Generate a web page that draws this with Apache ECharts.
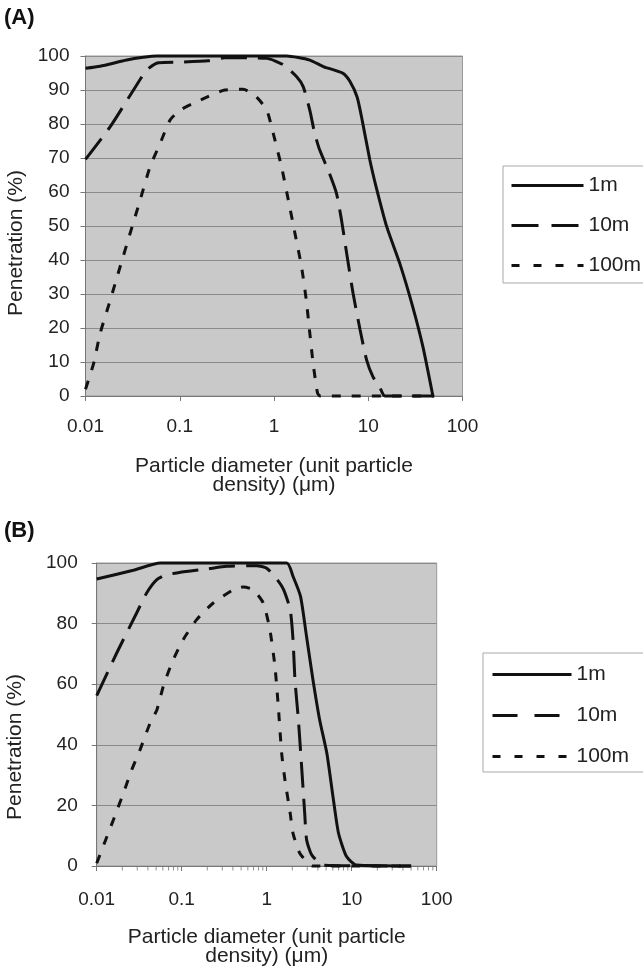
<!DOCTYPE html>
<html>
<head>
<meta charset="utf-8">
<script src="https://cdn.jsdelivr.net/npm/echarts@6/dist/echarts.min.js"></script>
<style>
html,body{margin:0;padding:0;background:#fff;}
#chart{width:643px;height:976px;}
</style>
</head>
<body>
<div id="chart"></div>
<script>
// ---- Data ----
const seriesNames = ['1m', '10m', '100m'];
const xTickLabels = ['0.01', '0.1', '1', '10', '100'];

// Panel A
const a1mX   = [0.01, 0.0143, 0.0274, 0.041, 0.057, 0.3, 1.36, 2.4, 3.33, 5.4, 6.4, 7.6, 8.5, 10.4, 12.1, 15.7, 21.6, 29.6, 38, 48.5];
const a1mY   = [96.4, 97, 98.8, 99.6, 100, 100, 100, 98.8, 96.9, 94.9, 92.5, 88, 82, 69.4, 61.6, 49.8, 39, 26.3, 14.5, 0];
const a10mX  = [0.01, 0.0183, 0.0323, 0.0447, 0.0594, 0.1, 0.2, 0.3, 0.84, 1.26, 1.74, 2.04, 2.4, 2.7, 3.05, 3.87, 4.6, 5.2, 5.9, 6.9, 8.2, 9.6, 11.2, 13.2, 15, 50];
const a10mY  = [69.6, 79.2, 90, 95.9, 98, 98.2, 98.6, 99.5, 99.3, 97.4, 93.9, 91, 84, 77.3, 72.4, 65.5, 59.6, 51.8, 42, 30.2, 19.4, 10.6, 5.7, 2.7, 0, 0];
const a100mX = [0.01, 0.0122, 0.0143, 0.0183, 0.0233, 0.0297, 0.038, 0.0485, 0.062, 0.079, 0.101, 0.164, 0.3, 0.47, 0.65, 0.84, 0.98, 1.2, 1.42, 1.67, 1.96, 2.2, 2.4, 2.6, 2.9, 3.1, 50];
const a100mY = [2, 9.6, 18.4, 28.2, 38, 47.8, 57.6, 67.5, 74.3, 81.2, 84.1, 87, 90, 90.2, 88, 84, 77.3, 67.5, 57.6, 47.8, 38, 28.2, 18.4, 9.6, 0.8, 0, 0];

// Panel B
const b1mX   = [0.01, 0.027, 0.056, 1.72, 2.04, 2.5, 2.94, 3.5, 4.2, 5.1, 6.1, 7, 8.7, 11.4, 50];
const b1mY   = [94.7, 97.6, 100, 100, 95.6, 89, 75.8, 61.5, 48.2, 37.2, 21.8, 10.8, 3.1, 0.3, 0];
const b10mX  = [0.01, 0.0172, 0.0295, 0.0387, 0.051, 0.0665, 0.114, 0.197, 0.34, 0.76, 1.0, 1.33, 1.58, 1.89, 2.04, 2.15, 2.36, 2.56, 2.8, 2.95, 3.4, 4.65, 50];
const b10mY  = [56.2, 70.3, 83.5, 90.1, 94.5, 96.1, 97.2, 98, 98.9, 99.1, 98.3, 94.5, 91.2, 84.6, 74.7, 61.5, 48.2, 33.9, 17.4, 8.6, 3.6, 0.3, 0];
const b100mX = [0.01, 0.0125, 0.0157, 0.0206, 0.0258, 0.0323, 0.0424, 0.051, 0.0608, 0.0762, 0.104, 0.15, 0.235, 0.405, 0.53, 0.69, 0.91, 1.09, 1.25, 1.37, 1.5, 1.64, 1.89, 2.04, 2.45, 3.1, 3.5, 50];
const b100mY = [0.9, 8, 15.2, 24, 31.7, 38.3, 47.1, 51.5, 59.3, 66.9, 74.7, 81.3, 86.8, 91.2, 92.1, 91.2, 86.8, 78, 65.9, 52.6, 37.2, 28.4, 17.4, 10.8, 4.2, 0.9, 0, 0];

// minor log ticks for panel B x axis
const minorTickMult = [2, 3, 4, 5, 6, 7, 8, 9];
const minorTickDecades = [0.01, 0.1, 1, 10];

// ---- Build ----
const FONT = 'Liberation Sans, Arial, sans-serif';
const zip = (xs, ys) => xs.map((x, i) => [x, ys[i]]);
const dashStyles = { '1m': 'solid', '10m': [26, 11], '100m': [9, 11] };

function lineSeries(name, xs, ys, gi) {
  return {
    type: 'line', name, xAxisIndex: gi, yAxisIndex: gi,
    data: zip(xs, ys), showSymbol: false, symbol: 'none',
    smooth: 0.2, clip: false, z: 3,
    lineStyle: { color: '#111', width: 3, type: dashStyles[name], cap: 'butt' },
    itemStyle: { color: '#111' }
  };
}

function xAxisOf(gi, margin, nameGap) {
  return {
    type: 'log', logBase: 10, min: 0.01, max: 100, gridIndex: gi,
    name: 'Particle diameter (unit particle\ndensity) (\u03bcm)',
    nameLocation: 'middle', nameGap,
    nameTextStyle: { fontFamily: FONT, fontSize: 21, color: '#222', lineHeight: 19 },
    axisLine: { show: true, lineStyle: { color: '#777', width: 1 } },
    axisTick: { show: true, length: 5, lineStyle: { color: '#777' } },
    splitLine: { show: false },
    minorTick: { show: false },
    axisLabel: {
      margin, fontFamily: FONT, fontSize: 19, color: '#222',
      formatter: v => {
        const s = xTickLabels.find(t => Math.abs(parseFloat(t) - v) / v < 1e-6);
        return s !== undefined ? s : '';
      }
    }
  };
}

function yAxisOf(gi, interval, margin) {
  return {
    type: 'value', min: 0, max: 100, interval, gridIndex: gi,
    axisLine: { show: true, lineStyle: { color: '#777', width: 1 } },
    axisTick: { show: true, length: 5, lineStyle: { color: '#777' } },
    splitLine: { show: true, lineStyle: { color: '#8a8a8a', width: 1 } },
    axisLabel: { margin, fontFamily: FONT, fontSize: 19, color: '#222' }
  };
}

const minorData = [];
minorTickDecades.forEach(d => minorTickMult.forEach(m => minorData.push([d * m, 0])));

function legendOf(left, top, itemWidth, pad, gap, dash10, dot100) {
  return {
    show: true, orient: 'vertical', left, top, itemWidth, itemHeight: 14, itemGap: gap,
    padding: pad, backgroundColor: '#fff', borderColor: '#a8a8a8', borderWidth: 1,
    textStyle: { fontFamily: FONT, fontSize: 21, color: '#222' },
    itemStyle: { opacity: 0 },
    lineStyle: { width: 3 },
    data: [
      { name: seriesNames[0] },
      { name: seriesNames[1], lineStyle: { type: dash10, width: 3 } },
      { name: seriesNames[2], lineStyle: { type: dot100, width: 3 } }
    ]
  };
}

const option = {
  backgroundColor: '#fff',
  animation: false,
  grid: [
    { left: 85.5, top: 56, width: 377, height: 340, show: true, backgroundColor: '#c9c9c9', borderColor: '#9a9a9a', borderWidth: 1 },
    { left: 96.7, top: 563, width: 340, height: 303, show: true, backgroundColor: '#c9c9c9', borderColor: '#9a9a9a', borderWidth: 1 }
  ],
  xAxis: [xAxisOf(0, 21, 61), xAxisOf(1, 24, 62)],
  yAxis: [yAxisOf(0, 10, 16), yAxisOf(1, 20, 19)],
  legend: [
    legendOf(503, 166, 72, [9, 30, 7, 7], 19, [27, 13], [8, 14]),
    legendOf(483, 653, 79, [11, 30, 5, 8], 20, [25, 17], [8, 14])
  ],
  graphic: [
    { type: 'text', left: 4, top: 7, style: { text: '(A)', font: 'bold 22px ' + FONT, fill: '#111' } },
    { type: 'text', left: 4, top: 520, style: { text: '(B)', font: 'bold 22px ' + FONT, fill: '#111' } },
    { type: 'text', x: 16, y: 243, rotation: Math.PI / 2, style: { text: 'Penetration (%)', font: '21px ' + FONT, fill: '#222', align: 'center', verticalAlign: 'middle' } },
    { type: 'text', x: 15, y: 747, rotation: Math.PI / 2, style: { text: 'Penetration (%)', font: '21px ' + FONT, fill: '#222', align: 'center', verticalAlign: 'middle' } }
  ],
  series: [
    lineSeries('1m', a1mX, a1mY, 0),
    lineSeries('10m', a10mX, a10mY, 0),
    lineSeries('100m', a100mX, a100mY, 0),
    lineSeries('1m', b1mX, b1mY, 1),
    lineSeries('10m', b10mX, b10mY, 1),
    lineSeries('100m', b100mX, b100mY, 1),
    {
      type: 'scatter', name: 'minor', xAxisIndex: 1, yAxisIndex: 1, data: minorData,
      symbol: 'rect', symbolSize: [1, 4], symbolOffset: [0, 2.5], clip: false, silent: true,
      itemStyle: { color: '#777' }, z: 1
    }
  ]
};

const chart = echarts.init(document.getElementById('chart'), null, { renderer: 'canvas' });
chart.setOption(option);
</script>
</body>
</html>
